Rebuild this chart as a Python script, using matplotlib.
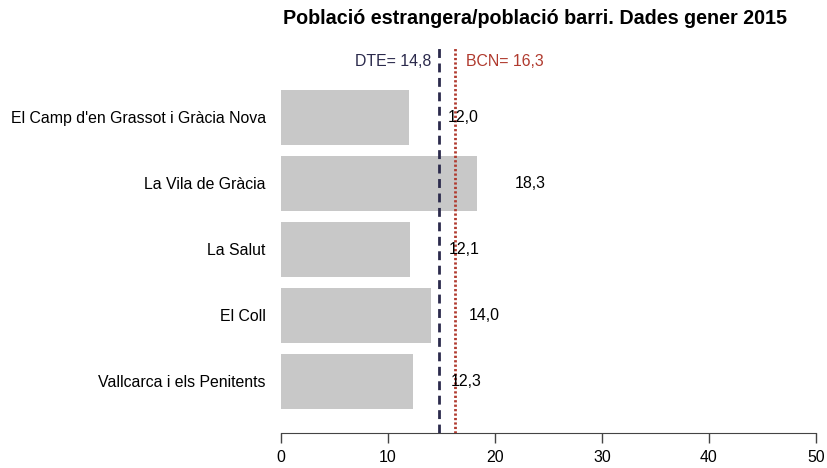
import matplotlib
matplotlib.use("Agg")
import matplotlib.pyplot as plt
import numpy as np

plt.rcParams['font.family'] = ['Liberation Sans', 'DejaVu Sans']

# donnees
barris = ["El Camp d'en Grassot i Gràcia Nova", "La Vila de Gràcia", "La Salut",
          "El Coll", "Vallcarca i els Penitents"]
valors = [12.0, 18.3, 12.1, 14.0, 12.3]
dte = 14.8
bcn = 16.3
xticks = [0, 10, 20, 30, 40, 50]

fig = plt.figure(figsize=(8.28, 4.68), dpi=100)
ax = fig.add_axes([281/828, 1 - 433/468, 535/828, (433 - 48)/468])

pos = np.arange(len(barris))[::-1]
ax.barh(pos, valors, height=1/1.2, color='#C8C8C8', edgecolor='none', zorder=1)

def fmt(v):
    return f"{v:.1f}".replace('.', ',')

for p, v in zip(pos, valors):
    ax.text(v + 5, p, fmt(v), ha='center', va='center', fontsize=11.4, color='black', zorder=4)

ax.axvline(dte, color='#2B2A4C', lw=2.0, dashes=(3.2, 2.0), zorder=3)
ax.axvline(bcn, color='#B03A2E', lw=2.0, dashes=(0.8, 0.8), zorder=3)
ax.text(dte - 0.75, 4.84, "DTE= " + fmt(dte), ha='right', va='center', fontsize=11.4, color='#2B2A4C')
ax.text(bcn + 1.0, 4.84, "BCN= " + fmt(bcn), ha='left', va='center', fontsize=11.4, color='#B03A2E')

ax.set_xlim(0, 50)
ax.set_ylim(-0.78, 5.05)
ax.set_xticks(xticks)
ax.set_yticks(pos)
ax.set_yticklabels(barris, fontsize=11.4)
ax.tick_params(axis='y', length=0, pad=11)
ax.tick_params(axis='x', length=7, width=1, color='#444444', labelsize=11.4, pad=5)
for s in ['top', 'right', 'left']:
    ax.spines[s].set_visible(False)
ax.spines['bottom'].set_color('#444444')

fig.text(535/828, 1 - 18/468, "Població estrangera/població barri. Dades gener 2015",
         ha='center', va='center', fontsize=14.2, fontweight='bold')

fig.savefig("out.png", dpi=100)
